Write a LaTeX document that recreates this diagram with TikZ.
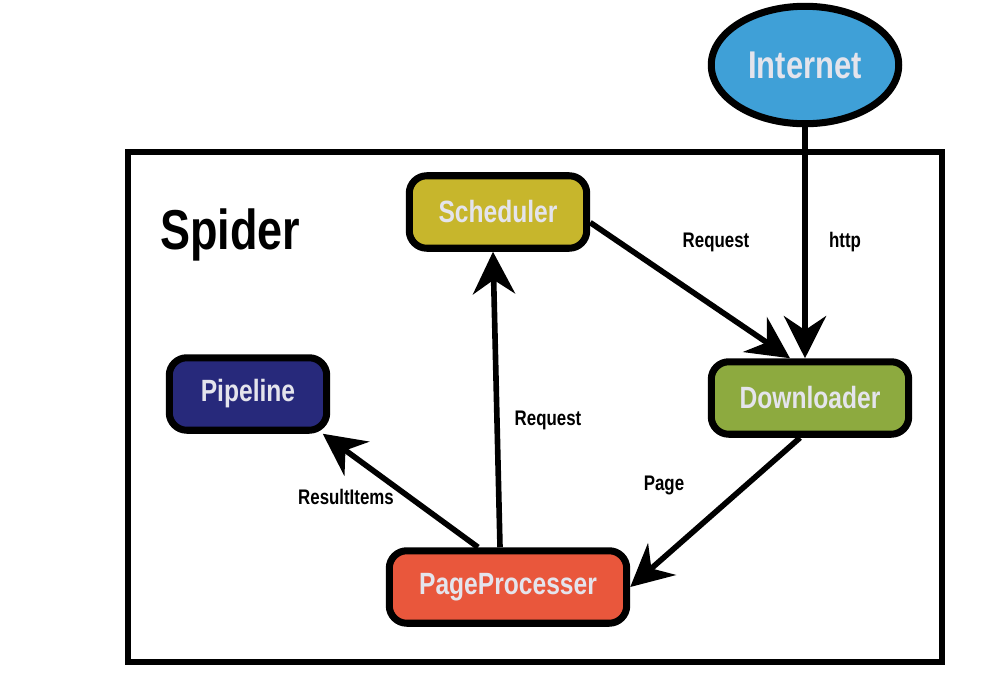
\documentclass[tikz,border=0pt]{standalone}
\usepackage{fontspec}
\setmainfont{Liberation Sans}
\newfontfamily\sketchfont{Liberation Sans Bold}[FakeStretch=0.8]
\usetikzlibrary{arrows.meta,shapes.geometric}
\definecolor{spiderNetBlue}{HTML}{3FA0D7}
\definecolor{spiderSchedYellow}{HTML}{C7B62C}
\definecolor{spiderLoadGreen}{HTML}{8DAA3F}
\definecolor{spiderPipeNavy}{HTML}{27297B}
\definecolor{spiderProcRed}{HTML}{E9573C}
\definecolor{spiderLabelGrey}{HTML}{E4E4EC}

\begin{document}
\begin{tikzpicture}[x=0.02cm, y=-0.02cm,
    compbox/.style={rectangle, rounded corners=10pt, draw=black, line width=4pt,
        minimum height=1.45cm, text=spiderLabelGrey,
        font=\sketchfont\fontsize{17.5}{18}\selectfont},
    flow/.style={line width=3.2pt, -{Stealth[length=24pt,width=24pt,inset=8pt]}},
    flowlabel/.style={font=\sketchfont\fontsize{12}{13}\selectfont}]
            \useasboundingbox (0,0) rectangle (992,684);
            % frame of the spider
            \draw[line width=3.6pt] (128,152) rectangle (942,662);
            \node[font=\sketchfont\fontsize{32}{34}\selectfont] (spidertitle) at (230,235) {Spider};
            % components
            \node[ellipse, draw=black, line width=4pt, fill=spiderNetBlue, minimum width=3.75cm, minimum height=2.35cm,
                text=spiderLabelGrey, font=\sketchfont\fontsize{22}{23}\selectfont] (internet) at (805,65) {Internet};
            \node[compbox, fill=spiderSchedYellow, minimum width=3.55cm] (scheduler) at (498,212) {Scheduler};
            \node[compbox, fill=spiderLoadGreen, minimum width=3.95cm] (downloader) at (810,398) {Downloader};
            \node[compbox, fill=spiderPipeNavy, minimum width=3.15cm] (pipeline) at (248,394) {Pipeline};
            \node[compbox, fill=spiderProcRed, minimum width=4.75cm] (pageproc) at (508,587) {PageProcesser};
            % connectors
            \draw[flow] (internet.south) -- (internet.south |- downloader.north);
            \draw[flow] ([yshift=-6pt]scheduler.east) -- ([xshift=-0.4cm]downloader.north);
            \draw[flow] ([xshift=-0.2cm]downloader.south) -- (pageproc.east);
            \draw[flow] ([xshift=-0.16cm]pageproc.north) -- ([xshift=-0.1cm]scheduler.south);
            \draw[flow] ([xshift=-0.6cm]pageproc.north) -- ([xshift=-0.15cm]pipeline.south east);
            \node[flowlabel] (reqsched) at (716,242) {Request};
            \node[flowlabel] (httplabel) at (845,242) {http};
            \node[flowlabel] (pagelabel) at (664,485) {Page};
            \node[flowlabel] (reqproc) at (548,420) {Request};
            \node[flowlabel] (resultlabel) at (346,497) {ResultItems};
        \end{tikzpicture}
\end{document}
